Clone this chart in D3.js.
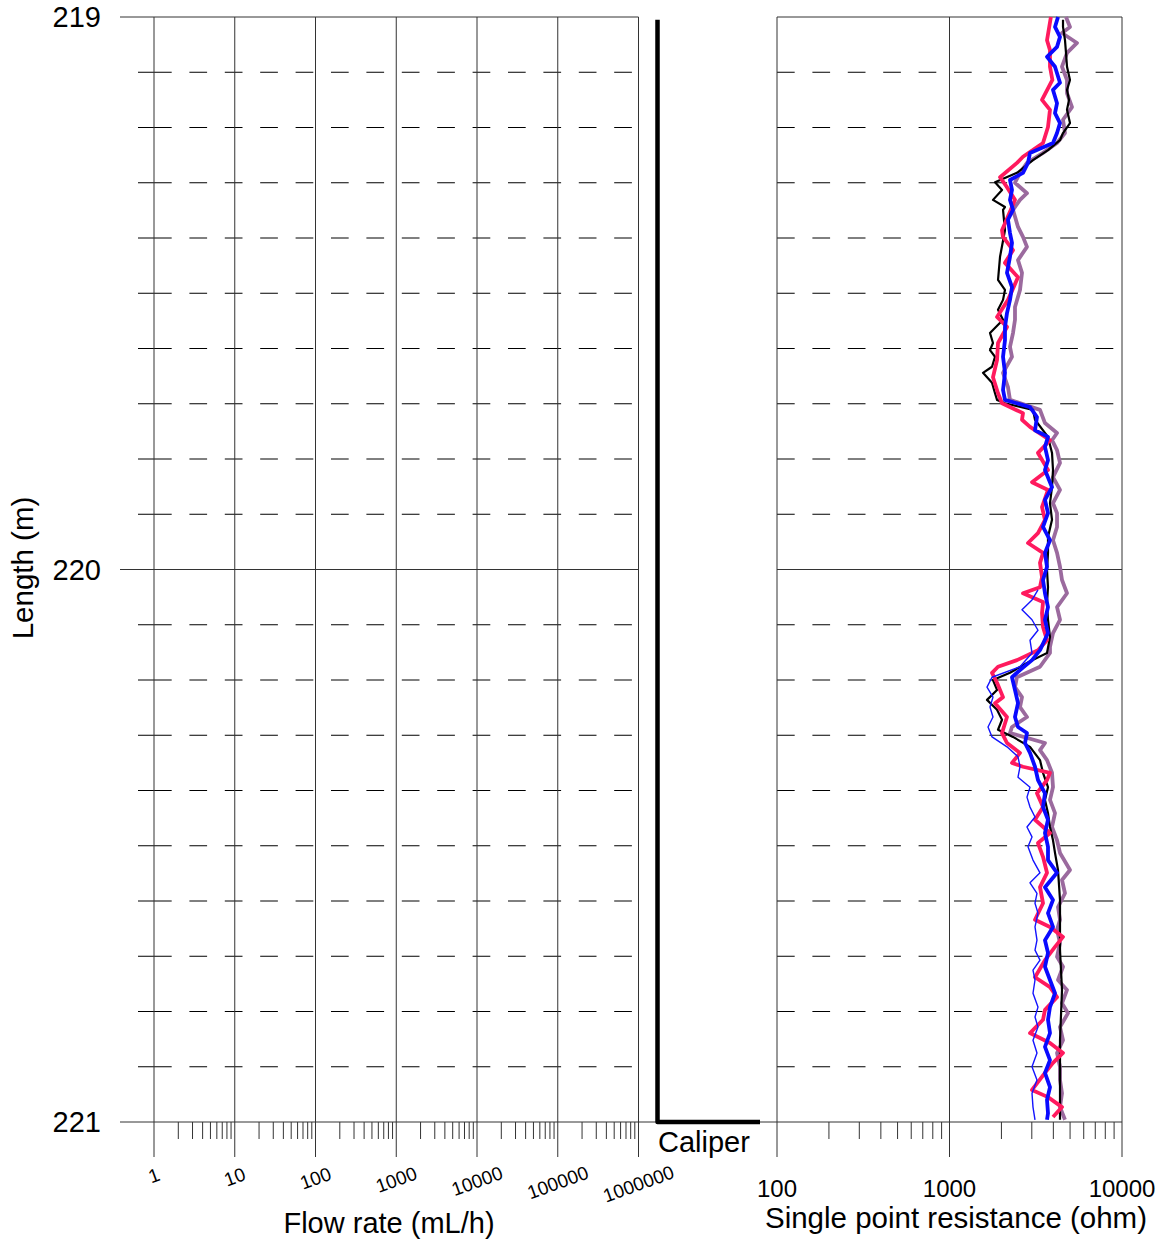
<!DOCTYPE html>
<html>
<head>
<meta charset="utf-8">
<script src="https://cdn.jsdelivr.net/npm/d3@7"></script>
<style>
  body { margin: 0; background: #fff; }
  text { font-family: "Liberation Sans", Arial, sans-serif; fill: #000; }
</style>
</head>
<body>
<svg id="chart" width="1160" height="1248"></svg>
<script>
// depth ticks (m) and x-axis tick values
const depthTicks = [219, 220, 221];
const flowTicks = [1, 10, 100, 1000, 10000, 100000, 1000000];
const resTicks = [100, 1000, 10000];

// caliper trace: [depth, relative opening]
const caliper = [[219.005, 0], [221, 0], [221, 1]];

// single point resistance logs: [depth (m), resistance (ohm)]
const spBlack = [
  [219.005,4550],[219.018,4550],[219.042,4672],[219.065,4735],[219.090,4800],[219.114,4995],[219.132,4800],
  [219.150,4929],[219.168,4800],[219.192,4995],[219.210,4550],[219.223,4371],[219.241,3724],[219.259,3048],
  [219.282,2462],[219.299,1836],[219.313,2016],[219.331,1787],[219.344,2097],[219.349,2043],[219.386,2097],
  [219.434,1963],[219.476,1911],[219.494,2097],[219.512,2043],[219.530,1911],[219.548,2043],[219.572,1717],
  [219.590,1787],[219.603,1717],[219.615,1836],[219.633,1764],[219.644,1564],[219.662,1764],[219.681,1836],
  [219.693,1886],[219.699,2097],[219.711,3048],[219.729,3131],[219.760,3724],[219.789,3929],[219.820,3981],
  [219.851,3929],[219.880,3824],[219.910,3929],[219.941,3724],[219.970,3724],[220.001,3675],[220.032,3724],
  [220.061,3675],[220.091,3724],[220.122,3824],[220.151,3675],[220.169,2813],[220.187,2242],[220.200,1787],
  [220.218,1886],[220.236,1650],[220.254,1886],[220.272,2016],[220.290,1911],[220.303,2334],[220.321,2929],
  [220.345,3347],[220.368,3484],[220.394,3724],[220.417,3577],[220.441,3724],[220.466,3824],[220.490,3981],
  [220.513,4089],[220.544,4257],[220.598,4371],[220.689,4371],[220.761,4490],[220.852,4371],[220.924,4371],
  [220.996,4371]
];
const spPurple = [
  [219.000,4735],[219.018,4995],[219.029,4490],[219.047,5485],[219.065,4800],[219.090,4490],[219.114,4800],
  [219.138,4800],[219.163,5131],[219.186,4550],[219.210,4672],[219.228,4201],[219.246,3484],[219.264,2813],
  [219.282,2563],[219.300,2397],[219.319,2813],[219.331,2563],[219.349,2334],[219.380,2495],[219.398,2667],
  [219.416,2813],[219.440,2495],[219.463,2632],[219.494,2563],[219.525,2397],[219.548,2397],[219.572,2334],
  [219.597,2242],[219.615,2303],[219.644,2043],[219.670,2183],[219.693,2242],[219.711,3347],[219.735,3577],
  [219.753,4201],[219.766,3929],[219.784,4201],[219.807,4371],[219.833,3981],[219.856,4371],[219.880,3981],
  [219.898,4201],[219.923,4201],[219.947,3981],[219.970,4201],[219.995,4371],[220.019,4490],[220.043,4800],
  [220.068,4201],[220.091,4371],[220.115,3981],[220.140,3824],[220.151,3824],[220.176,3347],[220.195,2462],
  [220.213,2397],[220.231,2632],[220.249,2563],[220.267,2813],[220.285,2303],[220.296,2242],[220.314,3577],
  [220.327,3347],[220.345,3675],[220.368,3929],[220.394,3981],[220.417,3824],[220.441,4089],[220.466,3929],
  [220.490,4201],[220.513,4371],[220.544,4995],[220.562,4490],[220.586,4672],[220.611,4257],[220.634,4371],
  [220.652,4201],[220.676,4371],[220.701,4201],[220.719,4550],[220.743,4257],[220.761,4800],[220.785,4490],
  [220.803,4864],[220.828,4371],[220.852,4550],[220.875,4201],[220.900,4371],[220.924,4371],[220.948,4490],
  [220.973,4371],[220.996,4672]
];
const spPink = [
  [219.000,3870],[219.042,3675],[219.060,3824],[219.090,3824],[219.114,3950],[219.150,3438],[219.168,3824],
  [219.199,3724],[219.228,3484],[219.253,2667],[219.264,2462],[219.290,1963],[219.308,2154],[219.331,2397],
  [219.386,2016],[219.398,2043],[219.422,2334],[219.445,2097],[219.471,2495],[219.512,2183],[219.543,1886],
  [219.561,2154],[219.590,1911],[219.621,1886],[219.652,1787],[219.681,1911],[219.699,2016],[219.717,2667],
  [219.729,2632],[219.742,2929],[219.766,3824],[219.789,3258],[219.820,3724],[219.842,3008],[219.856,3724],
  [219.887,3438],[219.910,3577],[219.934,3258],[219.952,2851],[219.970,3484],[219.988,3347],[220.014,3438],
  [220.032,3347],[220.043,2667],[220.059,3484],[220.079,3438],[220.104,3484],[220.128,3675],[220.146,3258],
  [220.164,2462],[220.176,1911],[220.187,1764],[220.205,1886],[220.231,2043],[220.242,1836],[220.267,2154],
  [220.296,2016],[220.314,2154],[220.332,2563],[220.350,2303],[220.357,2667],[220.368,3824],[220.381,3675],
  [220.405,3215],[220.430,3484],[220.453,3131],[220.477,3824],[220.495,3258],[220.520,3484],[220.549,3675],
  [220.575,3347],[220.604,3484],[220.634,3131],[220.647,3824],[220.665,4550],[220.683,4089],[220.707,3577],
  [220.738,3131],[220.756,3824],[220.774,4201],[220.797,3577],[220.815,3484],[220.839,2929],[220.857,3824],
  [220.875,4550],[220.893,3981],[220.911,3577],[220.942,3008],[220.955,3724],[220.973,4490],[220.991,3981]
];
const spBlueThin = [
  [220.037,3258],[220.055,3008],[220.073,2632],[220.091,3008],[220.110,3258],[220.128,2929],[220.151,3008],
  [220.176,2563],[220.195,1764],[220.213,1650],[220.231,1787],[220.249,1717],[220.267,1787],[220.285,1672],
  [220.303,1764],[220.321,2154],[220.339,2495],[220.357,2563],[220.376,2495],[220.394,2929],[220.412,2813],
  [220.430,2929],[220.448,3131],[220.466,2813],[220.484,3008],[220.502,2851],[220.526,3048],[220.549,3347],
  [220.567,2929],[220.586,3215],[220.604,3131],[220.622,3258],[220.647,3131],[220.671,3215],[220.689,3131],
  [220.707,3347],[220.725,3048],[220.743,3131],[220.767,3048],[220.792,3258],[220.810,3131],[220.828,3258],
  [220.852,3048],[220.875,3215],[220.900,3008],[220.924,3215],[220.948,3008],[220.973,3048],[220.996,3131]
];
const spBlue = [
  [219.000,4257],[219.018,4089],[219.036,4371],[219.054,4201],[219.072,3675],[219.090,4089],[219.119,4371],
  [219.132,3981],[219.156,4201],[219.174,4089],[219.192,4371],[219.210,4201],[219.228,3981],[219.246,2929],
  [219.264,2851],[219.282,2667],[219.295,2242],[219.313,2303],[219.331,2242],[219.349,2334],[219.367,2183],
  [219.391,2242],[219.409,2303],[219.434,2242],[219.463,2154],[219.489,2303],[219.512,2242],[219.536,2154],
  [219.561,2097],[219.585,2097],[219.615,2043],[219.644,2097],[219.675,2043],[219.693,2097],[219.706,2929],
  [219.724,3215],[219.748,3131],[219.760,3724],[219.778,3577],[219.802,3724],[219.820,3577],[219.851,3929],
  [219.874,3577],[219.898,3724],[219.923,3484],[219.947,3824],[219.970,3577],[219.995,3675],[220.019,3484],
  [220.043,3577],[220.068,3724],[220.091,3577],[220.115,3724],[220.146,3347],[220.164,3008],[220.182,2563],
  [220.195,2303],[220.218,2397],[220.242,2495],[220.267,2397],[220.285,2495],[220.296,2813],[220.314,2740],
  [220.332,2929],[220.357,3131],[220.381,3258],[220.405,3577],[220.430,3484],[220.453,3724],[220.477,3577],
  [220.502,3724],[220.526,3724],[220.549,4201],[220.575,3577],[220.598,3981],[220.622,3724],[220.647,3981],
  [220.671,3577],[220.694,3724],[220.719,3577],[220.743,3824],[220.767,4089],[220.792,3824],[220.815,3724],
  [220.839,3824],[220.864,3577],[220.888,3824],[220.911,3577],[220.937,3824],[220.960,3675],[220.984,3724],
  [220.996,3675]
];

const series = [
  { data: spPurple,   color: '#9b6a9e', width: 3.8 },
  { data: spBlack,    color: '#000000', width: 2.2 },
  { data: spPink,     color: '#ff1a5e', width: 3.8 },
  { data: spBlueThin, color: '#1414ff', width: 1.4 },
  { data: spBlue,     color: '#0a0aff', width: 3.8 }
];

const svg = d3.select('#chart');

const yTop = 17, yBottom = 1122;
const y = d3.scaleLinear().domain([219, 221]).range([yTop, yBottom]);
const xFlow = d3.scaleLog().domain([1, 1e6]).range([154, 638.5]);
const xRes = d3.scaleLog().domain([100, 10000]).range([777, 1122]);
const xCal = d3.scaleLinear().domain([0, 1]).range([657.5, 760]);

const minorDepths = d3.range(1, 20).filter(i => i !== 10).map(i => 219 + i / 10);
const minorOf = ticks => ticks.slice(0, -1).flatMap(t => d3.range(2, 10).map(k => t * k));

const grid = svg.append('g').attr('class', 'grid');

// ---- flow rate panel ----
// dashed 0.1 m lines
grid.selectAll('.dashL')
  .data(minorDepths)
  .join('line')
  .attr('x1', xFlow(1)).attr('x2', xFlow(1e6))
  .attr('y1', d => y(d)).attr('y2', d => y(d))
  .attr('stroke', '#000').attr('stroke-width', 1)
  .attr('stroke-dasharray', '17.7 17.7');

// small depth ticks on the left
grid.selectAll('.mtickL')
  .data(minorDepths)
  .join('line')
  .attr('x1', 138).attr('x2', xFlow(1))
  .attr('y1', d => y(d)).attr('y2', d => y(d))
  .attr('stroke', '#000');

// solid metre lines
grid.selectAll('.majL')
  .data(depthTicks)
  .join('line')
  .attr('x1', 120).attr('x2', xFlow(1e6))
  .attr('y1', d => y(d)).attr('y2', d => y(d))
  .attr('stroke', '#333').attr('stroke-width', 1);

// decade lines
grid.selectAll('.vL')
  .data(flowTicks)
  .join('line')
  .attr('x1', d => xFlow(d)).attr('x2', d => xFlow(d))
  .attr('y1', yTop).attr('y2', yBottom + 35)
  .attr('stroke', '#333').attr('stroke-width', 1);

// minor x ticks
grid.selectAll('.mxL')
  .data(minorOf(flowTicks))
  .join('line')
  .attr('x1', d => xFlow(d)).attr('x2', d => xFlow(d))
  .attr('y1', yBottom).attr('y2', yBottom + 17)
  .attr('stroke', '#333').attr('stroke-width', 1);

// ---- resistance panel ----
grid.selectAll('.dashR')
  .data(minorDepths)
  .join('line')
  .attr('x1', xRes(100)).attr('x2', xRes(10000))
  .attr('y1', d => y(d)).attr('y2', d => y(d))
  .attr('stroke', '#000').attr('stroke-width', 1)
  .attr('stroke-dasharray', '17.7 17.7');

grid.selectAll('.majR')
  .data(depthTicks)
  .join('line')
  .attr('x1', d => d === 221 ? xFlow(1e6) : xRes(100)).attr('x2', xRes(10000))
  .attr('y1', d => y(d)).attr('y2', d => y(d))
  .attr('stroke', '#333').attr('stroke-width', 1);

grid.selectAll('.vR')
  .data(resTicks)
  .join('line')
  .attr('x1', d => xRes(d)).attr('x2', d => xRes(d))
  .attr('y1', yTop).attr('y2', yBottom + 35)
  .attr('stroke', '#333').attr('stroke-width', 1);

grid.selectAll('.mxR')
  .data(minorOf(resTicks))
  .join('line')
  .attr('x1', d => xRes(d)).attr('x2', d => xRes(d))
  .attr('y1', yBottom).attr('y2', yBottom + 17)
  .attr('stroke', '#333').attr('stroke-width', 1);

// ---- caliper ----
svg.append('path')
  .datum(caliper)
  .attr('fill', 'none')
  .attr('stroke', '#000')
  .attr('stroke-width', 4.5)
  .attr('stroke-linejoin', 'round')
  .attr('d', d3.line().x(d => xCal(d[1])).y(d => y(d[0])));

// ---- resistance curves ----
const line = d3.line()
  .x(d => xRes(d[1]))
  .y(d => y(d[0]));

svg.append('g')
  .selectAll('path')
  .data(series)
  .join('path')
  .attr('fill', 'none')
  .attr('stroke', d => d.color)
  .attr('stroke-width', d => d.width)
  .attr('stroke-linejoin', 'round')
  .attr('d', d => line(d.data));

// ---- labels ----
svg.selectAll('.ylab')
  .data(depthTicks)
  .join('text')
  .attr('x', 101)
  .attr('y', d => y(d))
  .attr('dy', '0.35em')
  .attr('text-anchor', 'end')
  .style('font-size', '29px')
  .text(d => d);

svg.selectAll('.flab')
  .data(flowTicks)
  .join('text')
  .attr('transform', d => `translate(${xFlow(d)},${1174 + String(d).length * 1.4}) rotate(-20)`)
  .attr('dy', '0.35em')
  .attr('text-anchor', 'middle')
  .style('font-size', '19px')
  .text(d => d);

svg.selectAll('.rlab')
  .data(resTicks)
  .join('text')
  .attr('x', d => xRes(d))
  .attr('y', 1197)
  .attr('text-anchor', 'middle')
  .style('font-size', '24px')
  .text(d => d);

svg.append('text')
  .attr('x', 389).attr('y', 1233)
  .attr('text-anchor', 'middle')
  .style('font-size', '29px')
  .text('Flow rate (mL/h)');

svg.append('text')
  .attr('x', 956).attr('y', 1228)
  .attr('text-anchor', 'middle')
  .style('font-size', '29.5px')
  .text('Single point resistance (ohm)');

svg.append('text')
  .attr('transform', 'translate(33,568) rotate(-90)')
  .attr('text-anchor', 'middle')
  .style('font-size', '29.5px')
  .text('Length (m)');

svg.append('text')
  .attr('x', 658).attr('y', 1152)
  .style('font-size', '29px')
  .text('Caliper');
</script>
</body>
</html>
